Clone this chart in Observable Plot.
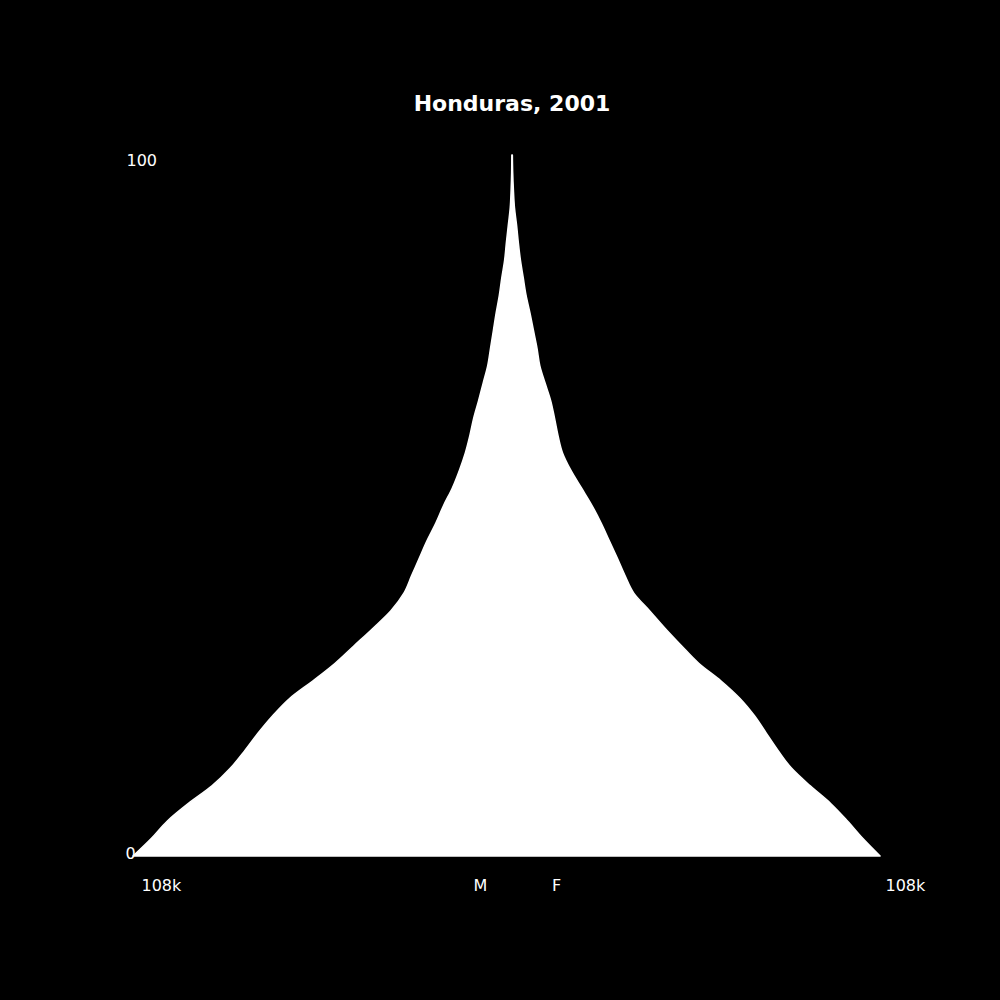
<!DOCTYPE html>
<html>
<head>
<meta charset="utf-8">
<script src="https://cdn.jsdelivr.net/npm/d3@7"></script>
<script src="https://cdn.jsdelivr.net/npm/@observablehq/plot@0.6"></script>
<style>
  html, body { margin: 0; padding: 0; background: #000; overflow: hidden; }
  #title { width: 1000px; height: 120px; box-sizing: border-box; padding-left: 24px; padding-top: 89px;
           text-align: center; color: #fff; font-family: "DejaVu Sans", sans-serif; font-weight: bold; font-size: 22px; line-height: 30px; }
</style>
</head>
<body>
<div id="title">Honduras, 2001</div>
<div id="chart"></div>
<script>
const ages = [0,2.5,5,7.5,10,12.5,15,17.5,20,22.5,25,27.5,30,32.5,35,37.5,40,42.5,45,47.5,50,52.5,55,57.5,60,62.5,65,67.5,70,72.5,75,77.5,80,82.5,85,87.5,90,92.5,95,97.5,100];
// thousands of people
const male = [108,102.8,98.2,92.2,85.5,80.3,76.2,72.4,68.2,63.3,56.7,50.4,45.0,39.6,34.5,30.8,28.6,26.4,24.2,21.7,19.5,17.0,15.0,13.3,12.0,10.9,9.5,8.2,6.9,6.1,5.3,4.5,3.6,2.9,2.1,1.6,1.05,0.5,0.25,0.1,0.05];
const female = [104.9,100,95.6,90.8,85,79.7,75.9,72.5,69.1,64.9,59.5,53.2,48.3,43.6,39.2,34.7,32.2,30.0,27.7,25.4,22.8,19.8,16.8,14.4,13.1,12.1,11.0,9.4,7.9,7.1,6.1,5.1,4.0,3.2,2.4,1.8,1.3,0.7,0.4,0.2,0.1];
const maxValue = 108;
const sideLabels = ["108k", "108k"];
const sexLabels = ["M", "F"];
const ageLabels = [100, 0];

const rows = ages.map((a, i) => ({age: a, m: -male[i], f: female[i]}));
const font = "DejaVu Sans, sans-serif";

const chart = Plot.plot({
  width: 1000,
  height: 880,
  marginLeft: 133,
  marginRight: 109,
  marginTop: 35,
  marginBottom: 144,
  style: {background: "#000", color: "#fff", fontFamily: font, fontSize: "16px", overflow: "visible"},
  x: {domain: [-maxValue, maxValue], axis: null},
  y: {domain: [0, 100], axis: null},
  marks: [
    Plot.areaX(rows, {y: "age", x1: "m", x2: "f", fill: "#fff", stroke: "#fff", strokeWidth: 1.5, curve: "monotone-y"}),
    Plot.text([ageLabels[0]], {x: -maxValue, y: d => d, text: d => String(d), textAnchor: "start", lineAnchor: "top", dx: -7, dy: -1, fill: "#fff", fontSize: 16}),
    Plot.text([ageLabels[1]], {x: -maxValue, y: d => d, text: d => String(d), textAnchor: "start", dx: -8, dy: -3, fill: "#fff", fontSize: 16}),
    Plot.text([sideLabels[0]], {x: -maxValue, y: 0, text: d => d, textAnchor: "start", dx: 8, dy: 29, fill: "#fff", fontSize: 16}),
    Plot.text([sideLabels[1]], {x: maxValue, y: 0, text: d => d, textAnchor: "start", dx: -6, dy: 29, fill: "#fff", fontSize: 16}),
    Plot.text([sexLabels[0]], {x: 0, y: 0, text: d => d, dx: -32, dy: 29, fill: "#fff", fontSize: 16}),
    Plot.text([sexLabels[1]], {x: 0, y: 0, text: d => d, dx: 44, dy: 29, fill: "#fff", fontSize: 16})
  ]
});
document.getElementById("chart").appendChild(chart);
</script>
</body>
</html>
